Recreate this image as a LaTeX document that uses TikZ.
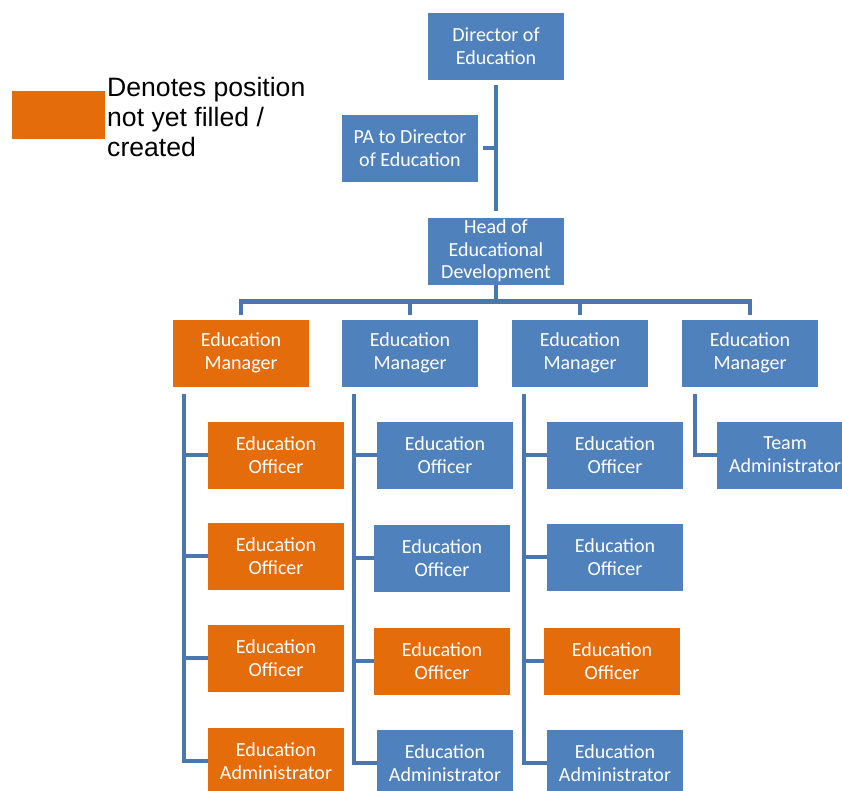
\documentclass[tikz,border=0pt]{standalone}
\usepackage{fontspec}
\setmainfont{Carlito}
\newfontfamily\legendfont{Liberation Sans}
\definecolor{postblue}{HTML}{4F81BD}
\definecolor{postorange}{HTML}{E46C0A}
\definecolor{linkblue}{HTML}{4A77AF}
\begin{document}
\begin{tikzpicture}[x=1pt,y=-1pt]
        \tikzset{post/.style={rectangle,fill=postblue,text=white,minimum width=136pt,
            minimum height=67pt,inner sep=0pt,align=center,font=\fontsize{20}{23}\selectfont},
          vacant/.style={post,fill=postorange},
          link/.style={draw=linkblue,line width=4.5pt}}
        \useasboundingbox (0,0) rectangle (842,790);
        \node[fill=postorange,minimum width=93pt,minimum height=48pt,inner sep=0pt] (key) at (58.5,115) {};
        \node[anchor=north west,inner sep=0pt,align=left,
          font=\legendfont\fontsize{26.6}{30}\selectfont] (keytext) at (107,77)
          {Denotes position\\not yet filled /\\created};
        \node[post] (dir) at (496,46) {Director of\\Education};
        \node[post] (pa) at (410,148) {PA to Director\\of Education};
        \node[post,font=\fontsize{20}{22.5}\selectfont] (head) at (496,251) {Head of\\Educational\\Development};
        \node[vacant] (m1) at (241,353) {Education\\Manager};
        \node[post] (m2) at (410,353) {Education\\Manager};
        \node[post] (m3) at (580,353) {Education\\Manager};
        \node[post] (m4) at (750,353) {Education\\Manager};
        \node[vacant] (a11) at (276,455) {Education\\Officer};
        \node[vacant] (a12) at (276,556) {Education\\Officer};
        \node[vacant] (a13) at (276,658) {Education\\Officer};
        \node[vacant] (a14) at (276,761) {Education\\Administrator};
        \node[post] (a21) at (445,455) {Education\\Officer};
        \node[post] (a22) at (442,558) {Education\\Officer};
        \node[vacant] (a23) at (442,661) {Education\\Officer};
        \node[post] (a24) at (445,763) {Education\\Administrator};
        \node[post] (a31) at (615,455) {Education\\Officer};
        \node[post] (a32) at (615,557) {Education\\Officer};
        \node[vacant] (a33) at (612,661) {Education\\Officer};
        \node[post] (a34) at (615,763) {Education\\Administrator};
        \node[post] (a41) at (785,455) {Team\\Administrator};
        \draw[link,shorten <=5pt,shorten >=6pt] (dir.south) -- (head.north);
        \draw[link,shorten <=5pt] (pa.east) -- (pa.east -| dir.south);
        \draw[link] (head.south) -- ++(0,17) coordinate (bar);
        \foreach \m in {m1,m2,m3,m4}
          \draw[link] (bar) -| ([yshift=4pt]\m.north);
        \path (m1.south west) ++(11,7) coordinate (s1);
        \path (m2.south west) ++(12,7) coordinate (s2);
        \path (m3.south west) ++(12,7) coordinate (s3);
        \path (m4.south west) ++(13,7) coordinate (s4);
        \foreach \c in {1,2,3} {
          \draw[link] (s\c) |- (a\c4.west);
          \foreach \r in {1,2,3}
            \draw[link] (a\c\r.west) -- (a\c\r.west -| s\c);
        }
        \draw[link] (s4) |- (a41.west);
\end{tikzpicture}
\end{document}
